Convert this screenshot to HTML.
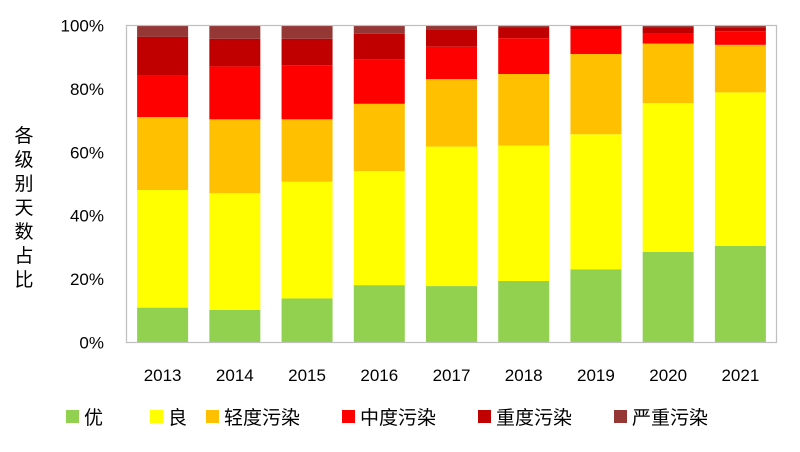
<!DOCTYPE html>
<html><head><meta charset="utf-8"><style>
body{margin:0;background:#fff;}
svg text{font-family:"Liberation Sans","Noto Sans CJK SC",sans-serif;fill:#000;}
</style></head><body>
<svg id="chart" width="800" height="447" viewBox="0 0 800 447" xmlns="http://www.w3.org/2000/svg">
<rect x="0" y="0" width="800" height="447" fill="#fff"/>
<g id="plot"></g>
<g id="yticks"></g>
<g id="xticks"></g>
<text font-size="19" text-anchor="middle">
<tspan x="24" y="142">各</tspan><tspan x="24" y="166">级</tspan><tspan x="24" y="190">别</tspan><tspan x="24" y="214">天</tspan><tspan x="24" y="238">数</tspan><tspan x="24" y="262">占</tspan><tspan x="24" y="286">比</tspan>
</text>
<g id="legend"></g>
</svg>
<script>
const categories=["2013","2014","2015","2016","2017","2018","2019","2020","2021"];
const seriesNames=["优","良","轻度污染","中度污染","重度污染","严重污染"];
const you=[11.0,10.3,13.9,18.1,17.8,19.4,23.1,28.6,30.5];
const liang=[37.1,36.8,36.8,36.0,44.0,42.7,42.6,46.9,48.4];
const qingdu=[23.0,23.3,19.7,21.2,21.3,22.6,25.3,18.8,15.0];
const zhongdu=[13.1,16.7,17.1,14.1,10.2,11.3,7.9,3.2,4.3];
const zhongduHeavy=[12.2,8.7,8.3,8.0,5.5,3.5,1.1,2.0,1.2];
const yanzhong=[3.6,4.2,4.2,2.6,1.2,0.5,0.0,0.5,0.6];
const yTicks=[0,20,40,60,80,100];
const colors=["#92d050","#ffff00","#ffc000","#ff0000","#c00000","#953735"];
const series=[you,liang,qingdu,zhongdu,zhongduHeavy,yanzhong];
const NS="http://www.w3.org/2000/svg";
const L=126.5,R=776.5,T=25.5,B=342.5;
const bw=(R-L)/categories.length;
const yS=v=>B-(v/100)*(B-T);
const xC=i=>L+bw*(i+0.5);
const barW=51;
const plot=document.getElementById('plot');
categories.forEach((c,i)=>{
  let cum=0;
  series.forEach((s,k)=>{
    const v=s[i];
    const r=document.createElementNS(NS,'rect');
    r.setAttribute('x',xC(i)-barW/2);
    r.setAttribute('y',yS(cum+v));
    r.setAttribute('width',barW);
    r.setAttribute('height',Math.max(0,yS(cum)-yS(cum+v)));
    r.setAttribute('fill',colors[k]);
    
    
    plot.appendChild(r);
    cum+=v;
  });
});
const frame=document.createElementNS(NS,'rect');
frame.setAttribute('x',L);frame.setAttribute('y',T);frame.setAttribute('width',R-L);frame.setAttribute('height',B-T);
frame.setAttribute('fill','none');frame.setAttribute('stroke','#bfbfbf');frame.setAttribute('stroke-width','1.2');


plot.appendChild(frame);
const yt=document.getElementById('yticks');
yTicks.forEach(v=>{
  const t=document.createElementNS(NS,'text');
  t.setAttribute('x',104);t.setAttribute('y',yS(v)+6);t.setAttribute('text-anchor','end');t.setAttribute('font-size','17');
  t.textContent=v+'%';
  
  
  yt.appendChild(t);
});
const xt=document.getElementById('xticks');
categories.forEach((c,i)=>{
  const t=document.createElementNS(NS,'text');
  t.setAttribute('x',xC(i));t.setAttribute('y',381);t.setAttribute('text-anchor','middle');t.setAttribute('font-size','17');
  t.textContent=c;
  
  
  xt.appendChild(t);
});
const lg=document.getElementById('legend');
const lx=[66,150,206,342,478,614];
seriesNames.forEach((n,k)=>{
  const g=document.createElementNS(NS,'g');
  
  
  const r=document.createElementNS(NS,'rect');
  r.setAttribute('x',lx[k]);r.setAttribute('y',410);r.setAttribute('width',13);r.setAttribute('height',13);r.setAttribute('fill',colors[k]);
  g.appendChild(r);
  const t=document.createElementNS(NS,'text');
  t.setAttribute('x',lx[k]+18);t.setAttribute('y',424);t.setAttribute('font-size','19');
  t.textContent=n;
  g.appendChild(t);
  lg.appendChild(g);
});
</script>
</body></html>
